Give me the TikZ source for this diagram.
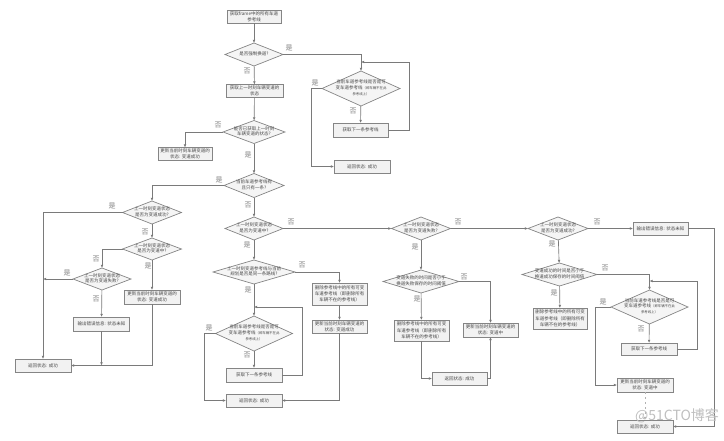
\documentclass[tikz,border=0pt]{standalone}
\usepackage{fontspec}
\setmainfont{Noto Sans CJK SC}
\usetikzlibrary{shapes.geometric,arrows.meta}
\newcommand\dtx[1]{\raisebox{-1.1pt}[0pt][0pt]{\makebox[0pt]{\begin{tabular}{@{}c@{}}#1\end{tabular}}}}
\newcommand\smalltx[1]{{\fontsize{3.4}{4.6}\selectfont #1}}
\tikzset{
 x=1pt,y=-1pt,
 flow/.style={draw=black!52,line width=.65pt,-{Latex[length=3.2pt,width=2.8pt]}},
 boxn/.style={rectangle,draw=black!48,line width=.8pt,fill=black!5,inner sep=0pt,outer sep=0pt,align=center,
   text=black!72,font=\fontsize{4.5}{6.2}\selectfont},
 dia/.style={diamond,draw=black!48,line width=.7pt,fill=black!4,inner sep=0pt,outer sep=0pt,
   text=black!72,font=\fontsize{4.5}{5.6}\selectfont},
 lab/.style={text=black!50,font=\fontsize{7}{8}\selectfont,inner sep=0pt},
}
\begin{document}
\begin{tikzpicture}
\useasboundingbox (0,0) rectangle (724,440);
% ---- boxes
\newcommand\bx[5]{\node[boxn,minimum width=#3pt,minimum height=#4pt] (#1) at (#2) {#5};}
\newcommand\dm[5]{\node[dia,minimum width=#3pt,minimum height=#4pt,aspect=2] (#1) at (#2) {\dtx{#5}};}
\bx{start}{254,16.5}{54}{13}{获取frame中的所有车道\\参考线}
\dm{d1}{254,54.5}{58}{23}{是否强制换道?}
\bx{r1}{254.5,91}{57}{13}{获取上一时刻车辆变道的\\状态}
\dm{d2}{254,132}{62}{23}{能否已获取上一时刻\\车辆变道的状态?}
\bx{r2}{185,154}{54}{13}{更新当前时刻车辆变道的\\状态: 变道成功}
\dm{d3}{254,185.5}{60}{24}{当前车道参考线有\\且只有一条?}
\dm{d10}{361,88.5}{78}{35}{当前车道参考线是否是可\\变车道参考线\smalltx{（即车辆不在此}\\\smalltx{参考线上）}}
\bx{r10}{360.5,130}{55}{14}{获取下一条参考线}
\bx{r11}{362,166.5}{56}{13}{返回状态: 成功}
% left
\dm{d7}{152,212.5}{59}{23}{上一时刻变道状态\\是否为变道成功?}
\dm{d8}{152,249}{59}{22}{上一时刻变道状态\\是否为变道中?}
\dm{d9}{102,279}{58}{22}{上一时刻变道状态\\是否为变道失败?}
\bx{r7}{152,297}{56}{14}{更新当前时刻车辆变道的\\状态: 变道成功}
\bx{r8}{101.5,324}{56}{14}{输出错误信息: 状态未知}
\bx{r9}{43,365.5}{56}{13}{返回状态: 成功}
% centre
\dm{d4}{254,228.5}{58}{23}{上一时刻变道状态\\是否为变道中?}
\dm{d5}{254,272}{82}{24}{上一时刻变道参考线与当前\\规划是否是同一条路线?}
\bx{r3}{339.5,294}{55}{22}{删除参考线中的所有可变\\车道参考线（即删除所有\\车辆不在的参考线）}
\bx{r4}{339.5,326.5}{55}{13}{更新当前时刻车辆变道的\\状态: 变道成功}
\dm{d6}{254,333.5}{77}{35}{当前车道参考线是否是可\\变车道参考线\smalltx{（即车辆不在此}\\\smalltx{参考线上）}}
\bx{r5}{254,375}{56}{14}{获取下一条参考线}
\bx{r6}{254,400.5}{56}{13}{返回状态: 成功}
% third column
\dm{d11}{421,228.5}{59}{23}{上一时刻变道状态\\是否为变道失败?}
\dm{d12}{421,281.5}{76}{23}{变道失败的时间是否小于\\换道失败保存的时间阈值}
\bx{r12}{421.5,330.5}{55}{21}{删除参考线中的所有可变\\车道参考线（即删除所有\\车辆不在的参考线）}
\bx{r13}{490.5,330}{55}{14}{更新当前时刻车辆变道的\\状态: 变道中}
\bx{r14}{459.5,378.5}{55}{13}{返回状态: 成功}
% fourth column
\dm{d13}{558,228.5}{60}{23}{上一时刻变道状态\\是否为变道成功?}
\bx{r15}{660.5,228.5}{55}{13}{输出错误信息: 状态未知}
\dm{d14}{559.5,274.5}{75}{23}{变道成功的时间是否小于\\换道成功保存的时间阈值}
\bx{r16}{560,318.5}{54}{21}{删除参考线中的所有可变\\车道参考线（即删除所有\\车辆不在的参考线）}
\dm{d15}{649.5,307}{77}{34}{当前车道参考线是否是可\\变车道参考线\smalltx{（即车辆不在此}\\\smalltx{参考线上）}}
\bx{r17}{649,349}{56}{12}{获取下一条参考线}
\bx{r18}{645,385}{56}{14}{更新当前时刻车辆变道的\\状态: 变道中}
\bx{r19}{645,426.5}{56}{13}{返回状态: 成功}
% ---- way points
\coordinate (a1) at (311,88.5);
\coordinate (a2) at (409,62);
\coordinate (a3) at (361,62);
\coordinate (b1) at (43,279);
\coordinate (b2) at (101.5,365.5);
\coordinate (c1) at (204,333.5);
\coordinate (c2) at (302,307);
\coordinate (c3) at (254,307);
\coordinate (e1) at (697,281);
\coordinate (e2) at (649.5,281);
\coordinate (e3) at (595,307);
\coordinate (e4) at (714,228.5);
% ---- connectors
\draw[flow] (start) -- (d1);
\draw[flow] (d1) -- (r1);
\draw[flow] (r1) -- (d2);
\draw[flow] (d2) -- (d3);
\draw[flow] (d3) -- (d4);
\draw[flow] (d4) -- (d5);
\draw[flow] (d5) -- (d6);
\draw[flow] (d6) -- (r5);
\draw[flow] (d2.west) -| (r2.north);
\draw[flow] (d1.east) -| (d10.north);
\draw[flow] (d10) -- (r10);
\draw[flow] (d10.west) -- (a1) |- (r11.west);
\draw[flow] (r10.east) -| (a2) -- (a3);
\draw[flow] (d3.west) -| (d7.north);
\draw[flow] (d7.west) -| (r9.north);
\draw[flow] (d7) -- (d8);
\draw[flow] (d8) -- (r7);
\draw[flow] (d8.west) -| (d9.north);
\draw[flow] (d9) -- (r8);
\draw[flow] (d9.west) -- (b1);
\draw[flow] (r7.south) |- (r9.east);
\draw[flow] (r8.south) -- (b2);
\draw[flow] (d5.east) -| (r3.north);
\draw[flow] (r3) -- (r4);
\draw[flow] (r4.south) |- (r6.east);
\draw[flow] (d6.west) -- (c1) |- (r6.west);
\draw[flow] (r5.east) -| (c2) -- (c3);
\draw[flow] (d4) -- (d11);
\draw[flow] (d11) -- (d12);
\draw[flow] (d12) -- (r12);
\draw[flow] (d12.east) -| (r13.north);
\draw[flow] (r12.south) |- (r14.west);
\draw[flow] (r14.east) -| (r13.south);
\draw[flow] (d11) -- (d13);
\draw[flow] (d13) -- (r15);
\draw[flow] (d13) -- (d14);
\draw[flow] (d14) -- (r16);
\draw[flow] (d14.east) -| (d15.north);
\draw[flow] (d15) -- (r17);
\draw[flow] (r17.east) -| (e1) -- (e2);
\draw[flow] (d15.west) -- (e3) |- (r18.west);
\draw[flow,draw=black!30,dash pattern=on 2pt off 3pt] (r18) -- (r19);
\draw[flow] (r15.east) -- (e4) |- (r19.east);
% ---- labels
\foreach \i/\p/\t in {
 1/{289,48}/是,2/{247,71}/否,3/{315,83}/是,4/{353,111}/否,5/{218,125}/否,6/{248,155}/是,7/{219,180}/是,
 8/{112,206}/是,9/{145,232}/否,10/{96,259}/否,11/{148,266}/是,12/{67,273}/是,13/{96,299}/否,
 14/{248,205}/否,15/{291,222}/否,16/{247,245}/是,17/{302,265}/否,18/{248,290}/是,19/{209,328}/是,20/{247,355}/否,
 21/{458,222}/否,22/{415,247}/是,23/{464,277}/否,24/{417,299}/是,
 25/{597,222}/否,26/{552,244}/是,27/{605,268}/否,28/{554,293}/是,29/{603,302}/是,30/{641,329}/否}
 {\node[lab] (l\i) at (\p) {\t};}
\node[text=black!25,font=\fontsize{14}{14}\selectfont,inner sep=0pt] (wm) at (677,416) {@51CTO博客};
\end{tikzpicture}
\end{document}
